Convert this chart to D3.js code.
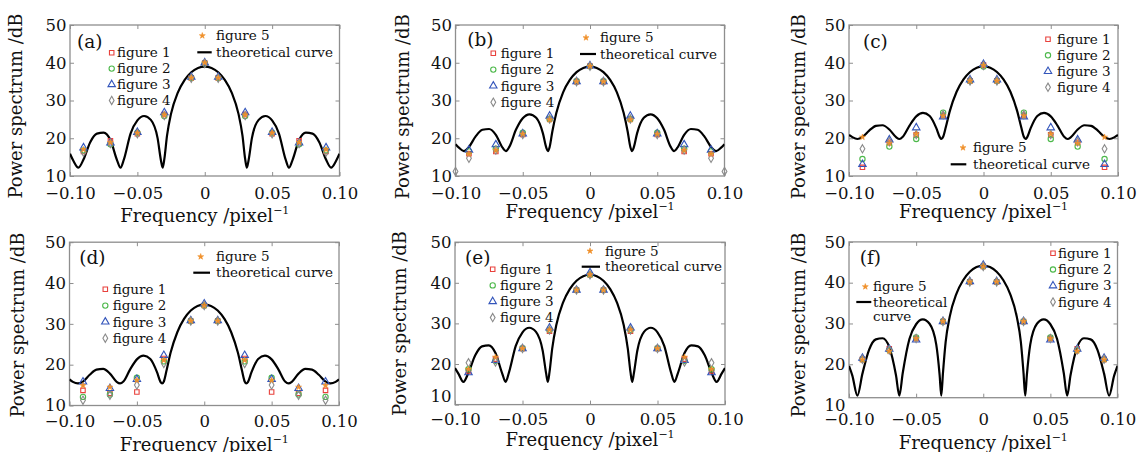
<!DOCTYPE html>
<html>
<head>
<meta charset="utf-8">
<script src="https://cdn.jsdelivr.net/npm/d3@7"></script>
<style>
  body { margin: 0; background: #fff; }
  svg text { font-family: "DejaVu Serif", serif; fill: #111; }
</style>
</head>
<body>
<svg id="chart" width="1138" height="452"></svg>
<script>
// Sample frequencies of the measured points
const freqs = [-0.09, -0.07, -0.05, -0.03, -0.01, 0, 0.01, 0.03, 0.05, 0.07, 0.09];
const edgeFreqs = [-0.10, 0.10];
const xTicks = [-0.10, -0.05, 0, 0.05, 0.10];
const yTicks = [10, 20, 30, 40, 50];
const seriesNames = ["figure 1", "figure 2", "figure 3", "figure 4", "figure 5"];

// Measured power spectrum (dB), one array per figure and panel
const aFig1 = [16.5, 19.3, 21.2, 26.3, 36.0, 39.9, 36.0, 26.3, 21.2, 19.3, 16.5];
const aFig2 = [16.8, 18.4, 21.5, 25.9, 36.0, 39.9, 36.0, 25.9, 21.5, 18.4, 16.8];
const aFig3 = [17.5, 18.8, 21.6, 26.8, 36.2, 40.0, 36.2, 26.8, 21.6, 18.8, 17.5];
const aFig4 = [16.3, 18.6, 21.2, 26.0, 35.9, 39.8, 35.9, 26.0, 21.2, 18.6, 16.3];
const aFig5 = [17.0, 18.9, 21.4, 26.2, 36.0, 40.0, 36.0, 26.2, 21.4, 18.9, 17.0];

const bFig1 = [15.9, 16.5, 21.0, 25.1, 35.0, 39.1, 35.0, 25.1, 21.0, 16.5, 15.9];
const bFig2 = [16.5, 17.2, 21.5, 25.1, 35.1, 39.1, 35.1, 25.1, 21.5, 17.2, 16.5];
const bFig3 = [16.9, 18.3, 21.2, 25.9, 35.0, 39.2, 35.0, 25.9, 21.2, 18.3, 16.9];
const bFig4 = [14.7, 16.9, 21.0, 25.1, 35.0, 39.1, 35.0, 25.1, 21.0, 16.9, 14.7];
const bFig5 = [15.9, 16.8, 21.1, 24.9, 35.0, 39.1, 35.0, 24.9, 21.1, 16.8, 15.9];
const bFig4Edge = [11.2, 11.2];

const cFig1 = [12.3, 18.9, 20.9, 26.0, 35.2, 39.4, 35.2, 26.0, 20.9, 18.9, 12.3];
const cFig2 = [14.5, 17.8, 19.8, 26.8, 35.2, 39.0, 35.2, 26.8, 19.8, 17.8, 14.5];
const cFig3 = [13.1, 19.6, 22.8, 25.7, 35.5, 39.6, 35.5, 25.7, 22.8, 19.6, 13.1];
const cFig4 = [17.2, 19.1, 21.0, 26.2, 35.2, 39.3, 35.2, 26.2, 21.0, 19.1, 17.2];
const cFig5 = [20.3, 18.7, 21.1, 26.0, 35.2, 39.3, 35.2, 26.0, 21.1, 18.7, 20.3];

const dFig1 = [13.7, 13.0, 13.3, 21.5, 30.7, 34.5, 30.7, 21.5, 13.3, 13.0, 13.7];
const dFig2 = [12.1, 12.7, 16.8, 20.8, 30.7, 34.5, 30.7, 20.8, 16.8, 12.7, 12.1];
const dFig3 = [15.8, 14.2, 16.4, 22.3, 30.8, 34.9, 30.8, 22.3, 16.4, 14.2, 15.8];
const dFig4 = [11.3, 12.5, 15.0, 20.3, 30.7, 34.5, 30.7, 20.3, 15.0, 12.5, 11.3];
const dFig5 = [14.9, 14.5, 16.2, 21.1, 30.7, 34.5, 30.7, 21.1, 16.2, 14.5, 14.9];

const eFig1 = [18.3, 21.2, 23.8, 28.1, 38.2, 42.0, 38.2, 28.1, 23.8, 21.2, 18.3];
const eFig2 = [18.7, 20.8, 23.9, 28.4, 38.2, 42.0, 38.2, 28.4, 23.9, 20.8, 18.7];
const eFig3 = [17.9, 20.9, 23.8, 28.9, 38.2, 42.5, 38.2, 28.9, 23.8, 20.9, 17.9];
const eFig4 = [20.3, 20.5, 23.8, 28.4, 38.2, 42.0, 38.2, 28.4, 23.8, 20.5, 20.3];
const eFig5 = [18.7, 21.7, 23.8, 28.4, 38.2, 42.0, 38.2, 28.4, 23.8, 21.7, 18.7];

const fFig1 = [21.2, 23.8, 26.3, 30.5, 40.2, 44.0, 40.2, 30.5, 26.3, 23.8, 21.2];
const fFig2 = [21.2, 23.5, 26.6, 30.5, 40.2, 44.0, 40.2, 30.5, 26.6, 23.5, 21.2];
const fFig3 = [21.5, 23.7, 26.0, 30.5, 40.3, 44.3, 40.3, 30.5, 26.0, 23.7, 21.5];
const fFig4 = [21.2, 23.5, 26.3, 30.5, 40.2, 44.0, 40.2, 30.5, 26.3, 23.5, 21.2];
const fFig5 = [21.1, 23.2, 26.3, 30.5, 40.2, 44.0, 40.2, 30.5, 26.3, 23.2, 21.1];

// Theoretical curve, read at these frequencies (0 .. 0.1, mirrored for negative side)
const curveHalfX = [0, 0.005, 0.01, 0.015, 0.02, 0.025, 0.028, 0.030, 0.03125, 0.0325, 0.035,
  0.04, 0.045, 0.05, 0.055, 0.06, 0.0625, 0.065, 0.07, 0.075, 0.08, 0.085, 0.09, 0.09375, 0.0975, 0.1];
const aCurve = [39.0, 38.63, 37.49, 35.41, 32.10, 26.52, 20.68, 14.45, 12.2, 14.12, 20.04,
  24.86, 25.89, 24.75, 21.32, 14.41, 12.2, 14.09, 19.51, 21.48, 21.22, 18.96, 14.36, 12.2, 14.03, 15.9];
const bCurve = [39.0, 38.63, 37.52, 35.46, 32.17, 26.76, 21.8, 17.7, 16.6, 17.5, 21.3,
  25.4, 26.35, 25.3, 22.3, 17.7, 16.6, 17.5, 20.9, 22.45, 22.25, 20.5, 17.7, 16.6, 17.5, 18.4];
const cCurve = [39.05, 38.68, 37.56, 35.53, 32.31, 27.25, 22.98, 20.39, 19.8, 20.30, 22.61,
  25.89, 26.71, 25.80, 23.36, 20.38, 19.8, 20.30, 22.31, 23.45, 23.30, 22.03, 20.35, 19.8, 20.29, 20.89];
const dCurve = [34.7, 34.38, 33.25, 31.2, 27.95, 22.9, 18.55, 15.89, 15.4, 15.8, 18.11,
  21.39, 22.21, 21.30, 18.86, 15.88, 15.4, 15.8, 17.81, 18.95, 18.80, 17.53, 15.85, 15.4, 15.79, 16.39];
const eCurve = [42.0, 41.63, 40.49, 38.43, 35.10, 29.55, 23.81, 17.98, 15.6, 17.68, 23.2,
  27.91, 28.93, 27.81, 24.45, 17.94, 15.6, 17.65, 22.69, 24.59, 24.34, 22.15, 17.89, 15.6, 17.62, 19.0];
const fCurve = [44.2, 43.83, 42.69, 40.61, 37.27, 31.62, 25.51, 17.9, 12.3, 17.4, 24.81,
  29.92, 30.98, 29.81, 26.21, 17.8, 12.3, 17.3, 24.22, 26.38, 26.11, 23.60, 17.7, 12.3, 17.2, 19.6];

// Marker styles for figure 1..5
const markerStyles = [
  {type: d3.symbolSquare,   size: 20, stroke: "#e8413c", fill: "none", sw: 1.1},
  {type: d3.symbolCircle,   size: 22, stroke: "#4cb84a", fill: "none", sw: 1.1},
  {type: d3.symbolTriangle, size: 24, stroke: "#3355bb", fill: "none", sw: 1.1},
  {type: d3.symbolDiamond,  size: 20, stroke: "#8a8a8a", fill: "none", sw: 1.1},
  {type: d3.symbolStar,     size: 11, stroke: "#f0902a", fill: "#f0902a", sw: 0.6}
];

// Panel layout
const panels = [
  {key: "a", left: 70, right: 339.5, top: 25, bottom: 176, yDomain: [10, 50],
   series: [aFig1, aFig2, aFig3, aFig4, aFig5], curve: aCurve,
   labelPos: [7, 16.7], xLabelOff: 17, xTitleOff: 39.5, yTitleOff: -48, yTitleY: 106,
   list: {mx: 41.7, tx: 47, y0: 27.7, step: 15.9},
   f5: {mx: 132.3, tx: 146, y: 10.7}, line: {x1: 127.3, x2: 141.7, tx: 146, y: 27.3, text: ["theoretical curve"]}},
  {key: "b", left: 455.5, right: 724.5, top: 25, bottom: 176, yDomain: [10, 50],
   series: [bFig1, bFig2, bFig3, bFig4, bFig5], curve: bCurve, edge4: bFig4Edge,
   labelPos: [11.8, 14.3], xLabelOff: 17, xTitleOff: 36, yTitleOff: -47, yTitleY: 106.7,
   list: {mx: 37.8, tx: 45.2, y0: 28.3, step: 16.3},
   f5: {mx: 130.5, tx: 144.5, y: 12.7}, line: {x1: 124.5, x2: 140.5, tx: 144.5, y: 29, text: ["theoretical curve"]}},
  {key: "c", left: 849, right: 1118, top: 25, bottom: 176, yDomain: [10, 50],
   series: [cFig1, cFig2, cFig3, cFig4, cFig5], curve: cCurve,
   labelPos: [14, 16.7], xLabelOff: 17, xTitleOff: 35.5, yTitleOff: -44, yTitleY: 106.7,
   list: {mx: 199, tx: 208, y0: 14.3, step: 16},
   f5: {mx: 114, tx: 124, y: 122.7}, line: {x1: 101.7, x2: 117.3, tx: 124, y: 139.3, text: ["theoretical curve"]}},
  {key: "d", left: 69.5, right: 339, top: 242.2, bottom: 405.5, yDomain: [10, 50],
   series: [dFig1, dFig2, dFig3, dFig4, dFig5], curve: dCurve,
   labelPos: [9.8, 15.5], xLabelOff: 15.5, xTitleOff: 39, yTitleOff: -46, yTitleY: 325,
   list: {mx: 35.8, tx: 43.2, y0: 47.1, step: 16.3},
   f5: {mx: 131.2, tx: 146.5, y: 14.5}, line: {x1: 123.8, x2: 140.5, tx: 146.5, y: 30.5, text: ["theoretical curve"]}},
  {key: "e", left: 455, right: 725, top: 242.2, bottom: 404.6, yDomain: [10, 50], y10Shift: -8,
   series: [eFig1, eFig2, eFig3, eFig4, eFig5], curve: eCurve,
   labelPos: [10, 15.5], xLabelOff: 14, xTitleOff: 35, yTitleOff: -49, yTitleY: 323.5,
   list: {mx: 37.7, tx: 45, y0: 27.1, step: 16.1},
   f5: {mx: 135, tx: 150, y: 8.8}, line: {x1: 126.7, x2: 145, tx: 150, y: 24.5, text: ["theoretical curve"]}},
  {key: "f", left: 849, right: 1117.5, top: 241.9, bottom: 397.7, yDomain: [11.8, 50],
   series: [fFig1, fFig2, fFig3, fFig4, fFig5], curve: fCurve,
   labelPos: [10.7, 15.8], xLabelOff: 21, xTitleOff: 45, yTitleOff: -44, yTitleY: 325,
   list: {mx: 204, tx: 209, y0: 11.4, step: 16.2},
   f5: {mx: 16.3, tx: 24, y: 44.8}, line: {x1: 7.3, x2: 22.3, tx: 24, y: 60.1, text: ["theoretical", "curve"]}}
];

const svg = d3.select("#chart");
const frameColor = "#8e8e8e";
const fmtX = d => d === 0 ? "0" : d3.format(".2f")(d);

function mirror(vals) {
  const right = curveHalfX.map((f, i) => ({f: f, v: vals[i]}));
  const left = right.slice(1).map(d => ({f: -d.f, v: d.v})).reverse();
  return left.concat(right);
}

function drawMarker(sel, style, cx, cy) {
  sel.append("path")
    .attr("d", d3.symbol().type(style.type).size(style.size)())
    .attr("transform", `translate(${cx},${cy})`)
    .attr("fill", style.fill)
    .attr("stroke", style.stroke)
    .attr("stroke-width", style.sw);
}

panels.forEach(p => {
  const g = svg.append("g").attr("class", "panel-" + p.key);

  const x = d3.scaleLinear().domain([-0.1, 0.1]).range([p.left, p.right]);
  const y = d3.scaleLinear().domain(p.yDomain).range([p.bottom, p.top]);

  svg.append("clipPath").attr("id", "clip-" + p.key)
    .append("rect")
    .attr("x", p.left).attr("y", p.top)
    .attr("width", p.right - p.left).attr("height", p.bottom - p.top);

  // Axes with inward ticks
  g.append("g")
    .attr("transform", `translate(0,${p.bottom})`)
    .call(d3.axisBottom(x).tickValues(xTicks).tickFormat(fmtX)
      .tickSizeInner(-4).tickSizeOuter(0).tickPadding(p.xLabelOff - 5.8));
  const leftAxis = g.append("g")
    .attr("transform", `translate(${p.left},0)`)
    .call(d3.axisLeft(y).tickValues(yTicks)
      .tickSizeInner(-4).tickSizeOuter(0).tickPadding(3.5));
  g.append("g")
    .attr("transform", `translate(0,${p.top})`)
    .call(d3.axisTop(x).tickValues(xTicks).tickFormat("").tickSizeInner(-4).tickSizeOuter(0));
  g.append("g")
    .attr("transform", `translate(${p.right},0)`)
    .call(d3.axisRight(y).tickValues(yTicks.filter(v => v > p.yDomain[0])).tickFormat("")
      .tickSizeInner(-4).tickSizeOuter(0));

  g.selectAll(".domain").remove();
  g.selectAll(".tick line").attr("stroke", frameColor).attr("stroke-width", 1);
  g.selectAll(".tick text")
    .attr("font-family", "DejaVu Serif")
    .attr("font-size", 16.5)
    .attr("fill", "#111");
  leftAxis.selectAll(".tick").filter(d => d < p.yDomain[0]).select("line").remove();
  if (p.y10Shift) {
    leftAxis.selectAll(".tick").filter(d => d === 10).select("text").attr("y", p.y10Shift);
  }

  // Frame
  g.append("rect")
    .attr("x", p.left).attr("y", p.top)
    .attr("width", p.right - p.left).attr("height", p.bottom - p.top)
    .attr("fill", "none")
    .attr("stroke", frameColor)
    .attr("stroke-width", 1.3);

  // Theoretical curve
  const line = d3.line()
    .x(d => x(d.f))
    .y(d => y(d.v))
    .curve(d3.curveMonotoneX);

  g.append("path")
    .datum(mirror(p.curve))
    .attr("clip-path", `url(#clip-${p.key})`)
    .attr("fill", "none")
    .attr("stroke", "#000")
    .attr("stroke-width", 2.2)
    .attr("d", line);

  // Measured points
  p.series.forEach((vals, s) => {
    let pts = freqs.map((f, i) => ({f: f, v: vals[i]}));
    if (s === 3 && p.edge4) {
      pts = pts.concat(edgeFreqs.map((f, i) => ({f: f, v: p.edge4[i]})));
    }
    const st = markerStyles[s];
    g.append("g").selectAll("path")
      .data(pts)
      .join("path")
      .attr("d", d3.symbol().type(st.type).size(st.size)())
      .attr("transform", d => `translate(${x(d.f)},${y(d.v)})`)
      .attr("fill", st.fill)
      .attr("stroke", st.stroke)
      .attr("stroke-width", st.sw);
  });

  // Panel label
  g.append("text")
    .attr("x", p.left + p.labelPos[0])
    .attr("y", p.top + p.labelPos[1])
    .attr("dy", "0.35em")
    .attr("font-size", 18.5)
    .text(`(${p.key})`);

  // Legend: figure 1..4
  const leg = g.append("g").attr("font-size", 13.5);
  seriesNames.slice(0, 4).forEach((name, i) => {
    const cy = p.top + p.list.y0 + i * p.list.step;
    drawMarker(leg, markerStyles[i], p.left + p.list.mx, cy);
    leg.append("text")
      .attr("x", p.left + p.list.tx)
      .attr("y", cy)
      .attr("dy", "0.35em")
      .text(name);
  });

  // Legend: figure 5 and theoretical curve
  drawMarker(leg, markerStyles[4], p.left + p.f5.mx, p.top + p.f5.y);
  leg.append("text")
    .attr("x", p.left + p.f5.tx)
    .attr("y", p.top + p.f5.y)
    .attr("dy", "0.35em")
    .text(seriesNames[4]);

  leg.append("line")
    .attr("x1", p.left + p.line.x1).attr("x2", p.left + p.line.x2)
    .attr("y1", p.top + p.line.y).attr("y2", p.top + p.line.y)
    .attr("stroke", "#000")
    .attr("stroke-width", 2.2);
  p.line.text.forEach((t, i) => {
    leg.append("text")
      .attr("x", p.left + p.line.tx)
      .attr("y", p.top + p.line.y + i * 14.7)
      .attr("dy", "0.35em")
      .text(t);
  });

  // Axis titles
  const xt = g.append("text")
    .attr("x", (p.left + p.right) / 2)
    .attr("y", p.bottom + p.xTitleOff)
    .attr("dy", "0.35em")
    .attr("text-anchor", "middle")
    .attr("font-size", 18)
    .text("Frequency /pixel");
  xt.append("tspan")
    .attr("font-size", 11)
    .attr("dy", "-0.75em")
    .text("−1");

  g.append("text")
    .attr("transform", `translate(${p.left + p.yTitleOff},${p.yTitleY}) rotate(-90)`)
    .attr("text-anchor", "middle")
    .attr("font-size", 18)
    .text("Power spectrum /dB");
});
</script>
</body>
</html>
